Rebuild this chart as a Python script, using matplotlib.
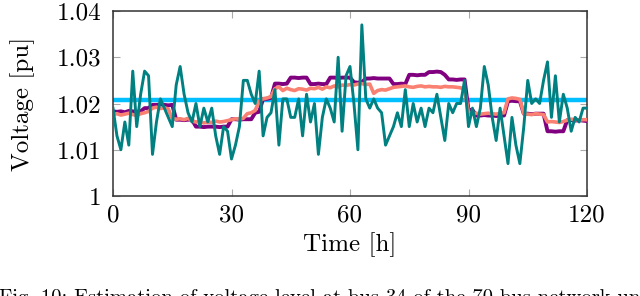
import numpy as np
from matplotlib import pyplot as plt

plt.rcParams['font.family'] = ['cmr10', 'DejaVu Serif']
plt.rcParams['axes.formatter.use_mathtext'] = True

hours = np.arange(0, 121)

# reference voltage (flat)
v_ref = [1.0207] * 121

# measured voltage (noisy)
v_meas = [1.019, 1.013, 1.010, 1.016, 1.011, 1.027, 1.015, 1.022, 1.027, 1.026,
          1.009, 1.016, 1.021, 1.019, 1.017, 1.015, 1.024, 1.028, 1.022, 1.018,
          1.016, 1.020, 1.015, 1.019, 1.016, 1.019, 1.013, 1.009, 1.015, 1.014,
          1.008, 1.011, 1.015, 1.025, 1.025, 1.022, 1.020, 1.027, 1.013, 1.017,
          1.018, 1.023, 1.011, 1.021, 1.021, 1.017, 1.017, 1.021, 1.013, 1.022,
          1.016, 1.020, 1.009, 1.017, 1.021, 1.019, 1.016, 1.030, 1.014, 1.026,
          1.028, 1.020, 1.010, 1.037, 1.021, 1.019, 1.021, 1.019, 1.018, 1.011,
          1.013, 1.015, 1.018, 1.015, 1.023, 1.015, 1.020, 1.016, 1.019, 1.015,
          1.019, 1.018, 1.022, 1.017, 1.012, 1.020, 1.018, 1.020, 1.020, 1.025,
          1.015, 1.019, 1.015, 1.019, 1.028, 1.024, 1.017, 1.012, 1.019, 1.013,
          1.007, 1.017, 1.011, 1.007, 1.015, 1.025, 1.020, 1.021, 1.020, 1.025,
          1.029, 1.017, 1.026, 1.016, 1.022, 1.019, 1.014, 1.017, 1.016, 1.019,
          1.019]

# estimate 1 (step-like)
v_est1 = [1.0183, 1.0182, 1.0183, 1.0181, 1.0184, 1.0183, 1.0182, 1.0183, 1.0190, 1.0190,
          1.0197, 1.0197, 1.0198, 1.0197, 1.0196, 1.0197, 1.0165, 1.0165, 1.0164, 1.0165,
          1.0165, 1.0150, 1.0150, 1.0149, 1.0150, 1.0150, 1.0150, 1.0149, 1.0150, 1.0150,
          1.0166, 1.0166, 1.0165, 1.0166, 1.0166, 1.0166, 1.0180, 1.0182, 1.0210, 1.0210,
          1.0212, 1.0243, 1.0243, 1.0242, 1.0243, 1.0256, 1.0256, 1.0255, 1.0256, 1.0256,
          1.0242, 1.0242, 1.0243, 1.0242, 1.0242, 1.0256, 1.0256, 1.0255, 1.0256, 1.0256,
          1.0256, 1.0246, 1.0245, 1.0246, 1.0254, 1.0254, 1.0255, 1.0254, 1.0254, 1.0254,
          1.0254, 1.0242, 1.0242, 1.0243, 1.0242, 1.0262, 1.0262, 1.0261, 1.0262, 1.0262,
          1.0268, 1.0268, 1.0269, 1.0268, 1.0262, 1.0252, 1.0252, 1.0251, 1.0252, 1.0252,
          1.0186, 1.0186, 1.0174, 1.0174, 1.0175, 1.0174, 1.0174, 1.0173, 1.0174, 1.0174,
          1.0205, 1.0206, 1.0205, 1.0205, 1.0178, 1.0178, 1.0177, 1.0178, 1.0178, 1.0178,
          1.0140, 1.0140, 1.0139, 1.0140, 1.0140, 1.0164, 1.0164, 1.0163, 1.0164, 1.0163,
          1.0162]

# estimate 2 (smoother)
v_est2 = [1.0176, 1.0178, 1.0175, 1.0177, 1.0179, 1.0176, 1.0174, 1.0178, 1.0180, 1.0183,
          1.0190, 1.0192, 1.0189, 1.0191, 1.0188, 1.0168, 1.0166, 1.0167, 1.0165, 1.0168,
          1.0162, 1.0160, 1.0161, 1.0158, 1.0160, 1.0159, 1.0162, 1.0160, 1.0161, 1.0163,
          1.0165, 1.0167, 1.0166, 1.0168, 1.0178, 1.0180, 1.0185, 1.0205, 1.0210, 1.0212,
          1.0215, 1.0232, 1.0236, 1.0228, 1.0233, 1.0230, 1.0228, 1.0232, 1.0231, 1.0229,
          1.0233, 1.0232, 1.0235, 1.0231, 1.0236, 1.0234, 1.0238, 1.0236, 1.0240, 1.0239,
          1.0241, 1.0240, 1.0242, 1.0243, 1.0241, 1.0242, 1.0222, 1.0228, 1.0230, 1.0229,
          1.0232, 1.0235, 1.0236, 1.0237, 1.0238, 1.0236, 1.0235, 1.0237, 1.0238, 1.0236,
          1.0237, 1.0236, 1.0236, 1.0235, 1.0237, 1.0236, 1.0236, 1.0235, 1.0234, 1.0230,
          1.0180, 1.0178, 1.0179, 1.0177, 1.0178, 1.0179, 1.0178, 1.0177, 1.0179, 1.0180,
          1.0210, 1.0212, 1.0211, 1.0209, 1.0178, 1.0177, 1.0176, 1.0178, 1.0177, 1.0176,
          1.0160, 1.0161, 1.0160, 1.0159, 1.0161, 1.0164, 1.0166, 1.0165, 1.0164, 1.0165,
          1.0165]

x_ticks = [0, 30, 60, 90, 120]
y_ticks = [1.00, 1.01, 1.02, 1.03, 1.04]
y_tick_labels = ["1", "1.01", "1.02", "1.03", "1.04"]

fig = plt.figure(figsize=(6.4, 2.96), dpi=100)
ax = fig.add_axes([113/640, 1 - 196/296, 474/640, 185/296])

ax.plot(hours, v_ref, color="#00bfff", lw=3.2, zorder=2)
ax.plot(hours, v_est1, color="#800080", lw=2.8, zorder=3)
ax.plot(hours, v_est2, color="#fa8072", lw=2.6, zorder=4)
ax.plot(hours, v_meas, color="#008080", lw=2.1, zorder=5)

ax.set_xlim(0, 120)
ax.set_ylim(1.0, 1.04)
ax.set_xticks(x_ticks)
ax.set_xticklabels([str(t) for t in x_ticks])
ax.set_yticks(y_ticks)
ax.set_yticklabels(y_tick_labels)
ax.tick_params(direction="in", length=5, width=0.8, color="#aaaaaa",
               top=True, right=True, labelsize=18)
ax.tick_params(axis="y", pad=8)
ax.tick_params(axis="x", pad=6)
for s in ax.spines.values():
    s.set_linewidth(1.1)
    s.set_color("#333333")

ax.set_xlabel("Time [h]", fontsize=18, labelpad=4)
ax.set_ylabel("Voltage [pu]", fontsize=18, labelpad=16)

fig.text(-0.002, 1 - 289/296,
         "Fig. 10: Estimation of voltage level at bus 34 of the 70-bus network under",
         fontsize=14.8, va="top", ha="left")

fig.savefig("out.png", dpi=100)
